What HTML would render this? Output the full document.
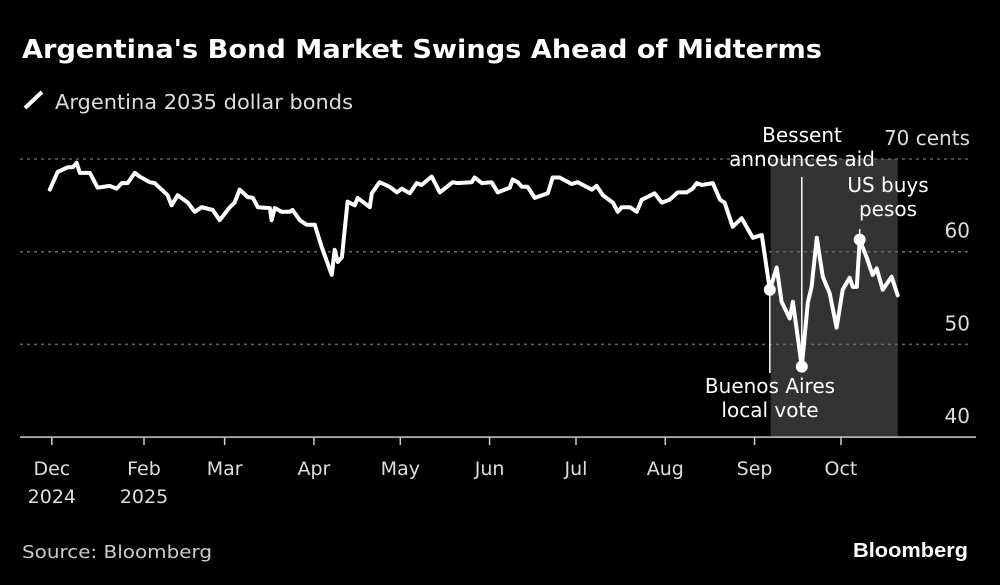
<!DOCTYPE html>
<html><head><meta charset="utf-8"><style>
html,body{margin:0;padding:0;background:#000;width:1000px;height:585px;overflow:hidden}
svg{display:block;font-family:"DejaVu Sans","Liberation Sans",sans-serif}
</style></head><body>
<svg id="chart" width="1000" height="585" viewBox="0 0 1000 585">
<rect width="1000" height="585" fill="#000"/>
<text x="22" y="58" fill="#fff" font-size="26" font-weight="bold" textLength="800" lengthAdjust="spacingAndGlyphs">Argentina's Bond Market Swings Ahead of Midterms</text>
<line x1="25" y1="108" x2="42" y2="92" stroke="#fff" stroke-width="4"/>
<text x="55" y="109" fill="#ddd" font-size="20" textLength="298" lengthAdjust="spacingAndGlyphs">Argentina 2035 dollar bonds</text>
<g id="plot"></g>
<text x="22" y="558" fill="#ccc" font-size="18" textLength="190" lengthAdjust="spacingAndGlyphs">Source: Bloomberg</text>
<text x="968" y="557" fill="#fff" font-size="20" font-weight="bold" text-anchor="end" textLength="115" lengthAdjust="spacingAndGlyphs" font-family="Liberation Sans, sans-serif">Bloomberg</text>
</svg>
<script>
// days since Jan 1 2025
const days = [-1.7,1,4.5,6.3,7.6,8.7,12.2,14.9,19.1,21.5,23.3,25.3,27.8,29.5,33,34.7,39.2,40.6,42.7,46.2,48.6,51,54.9,57.3,60.8,62.5,64.2,67,68.8,70.5,74.7,75.3,76.4,78.8,81.6,82.6,85.1,87.5,90.3,92.7,96.2,97.2,98.3,99.7,101.7,104.2,105.2,109.4,110.1,112.8,116.3,118.8,120.5,123.3,125.7,127.4,130.9,133.7,138.2,139.6,144.8,145.8,148.3,151.7,153.8,158,159,160.8,162.2,164.2,166.7,171.2,172.9,175.3,179.5,181.6,186.5,188.2,190.3,193.8,195.5,196.9,199.7,202.1,203.8,208.3,210.8,213.5,216.3,219.4,221.5,222.9,224.7,228.5,231,232.6,235.4,238.5,242.4,245.5,248.3,250.7,252.4,255.2,256.3,259.4,261.5,262.8,264.6,266.7,269.1,271.5,273.6,276,277.1,278.5,279.5,281.9,284,285.4,287.5,290.6,292.7];
const prices = [66.7,68.6,69.1,69.1,69.6,68.5,68.5,66.9,67.1,66.8,67.4,67.4,68.5,68.1,67.5,67.4,66.1,65,66.1,65.3,64.3,64.8,64.5,63.4,64.8,65.3,66.7,65.9,65.8,64.8,64.7,63.4,64.7,64.3,64.3,64.5,63.4,62.9,62.9,60.5,57.5,60.2,58.9,59.4,65.4,65,65.8,64.8,66.3,67.5,67,66.4,66.8,66.3,67.4,67.2,68.1,66.4,67.5,67.4,67.5,68,67.4,67.5,66.4,66.9,67.8,67.5,67,67,65.8,66.3,68,68,67.3,67.5,66.7,67.1,66.1,65.3,64.3,64.8,64.8,64.3,65.6,66.3,65.3,65.6,66.4,66.4,66.8,67.4,67.2,67.4,65.6,65.3,62.7,63.6,61.5,61.8,55.9,58.3,54.6,52.8,54.6,47.6,54.5,56.2,61.5,57.3,55.5,51.8,55.9,57.2,56.2,56.2,61.3,59.4,57.5,58.2,55.9,57.3,55.3];
const yTicks = [70,60,50,40];
const yTickLabels = ["70 cents","60","50","40"];
const xTickDays = [-1,31,59,90,120,151,181,212,243,273];
const xTickLabels = ["Dec","Feb","Mar","Apr","May","Jun","Jul","Aug","Sep","Oct"];
const xTickYears = ["2024","2025","","","","","","","",""];
const shadeDays = [248.6,292.7];
const eventIdx = [100,105,116];

const NS="http://www.w3.org/2000/svg";
const xS = d => 144 + (d-31)*2.88;
const yS = v => 159 + (70-v)*9.27;
const g = document.getElementById('plot');
function mk(tag, attrs, parent){const e=document.createElementNS(NS,tag);for(const k in attrs)e.setAttribute(k,attrs[k]);(parent||g).appendChild(e);return e;}

const sh = mk('rect',{x:xS(shadeDays[0]),y:yS(70),width:xS(shadeDays[1])-xS(shadeDays[0]),height:yS(40)-yS(70),fill:'#333'});



yTicks.forEach((t,i)=>{
  if(t>40){
    const l=mk('line',{x1:20,x2:970,y1:yS(t),y2:yS(t),stroke:'#666','stroke-width':1.5,'stroke-dasharray':'3,4'});
    
    
  }
  const tx=mk('text',{x:970,y:yS(t)-14,fill:'#ddd','font-size':20,'text-anchor':'end'});
  tx.textContent=yTickLabels[i];
  
  
});
const ax=mk('line',{x1:20,x2:976,y1:yS(40),y2:yS(40),stroke:'#ccc','stroke-width':1.5});


xTickDays.forEach((d,i)=>{
  const tk=mk('line',{x1:xS(d),x2:xS(d),y1:yS(40),y2:yS(40)+8,stroke:'#ccc','stroke-width':1.5});
  
  
  const tx=mk('text',{x:xS(d),y:475,fill:'#ddd','font-size':19,'text-anchor':'middle'});
  tx.textContent=xTickLabels[i];
  
  
  if(xTickYears[i]){
    const ty=mk('text',{x:xS(d),y:503,fill:'#ddd','font-size':19,'text-anchor':'middle'});
    ty.textContent=xTickYears[i];
    
    
  }
});

// annotation lines
const ba=eventIdx[0], be=eventIdx[1], us=eventIdx[2];
const l1=mk('line',{x1:xS(days[ba]),x2:xS(days[ba]),y1:yS(prices[ba]),y2:373,stroke:'#fff','stroke-width':1.5});


const l2=mk('line',{x1:xS(days[be]),x2:xS(days[be]),y1:177,y2:yS(prices[be]),stroke:'#fff','stroke-width':1.5});


const l3=mk('line',{x1:xS(days[us]),x2:xS(days[us]),y1:229,y2:yS(prices[us]),stroke:'#fff','stroke-width':1.5});



const pts=days.map((d,i)=>xS(d).toFixed(1)+','+yS(prices[i]).toFixed(1)).join(' ');
const pl=mk('polyline',{points:pts,fill:'none',stroke:'#fff','stroke-width':4,'stroke-linejoin':'round','stroke-linecap':'round'});



eventIdx.forEach((k,i)=>{
  const c=mk('circle',{cx:xS(days[k]),cy:yS(prices[k]),r:6,fill:'#fff'});
  
  
});

function label(lines,x,y0,name){
  lines.forEach((s,i)=>{
    const t=mk('text',{x:x,y:y0+i*24,fill:'#fff','font-size':20,'text-anchor':'middle'});
    t.textContent=s;
    
    
  });
}
label(['Bessent','announces aid'],802,142,'bessent-annotation');
label(['US buys','pesos'],888,192,'us-buys-pesos-annotation');
label(['Buenos Aires','local vote'],770,393,'buenos-aires-annotation');
</script>
</body></html>
